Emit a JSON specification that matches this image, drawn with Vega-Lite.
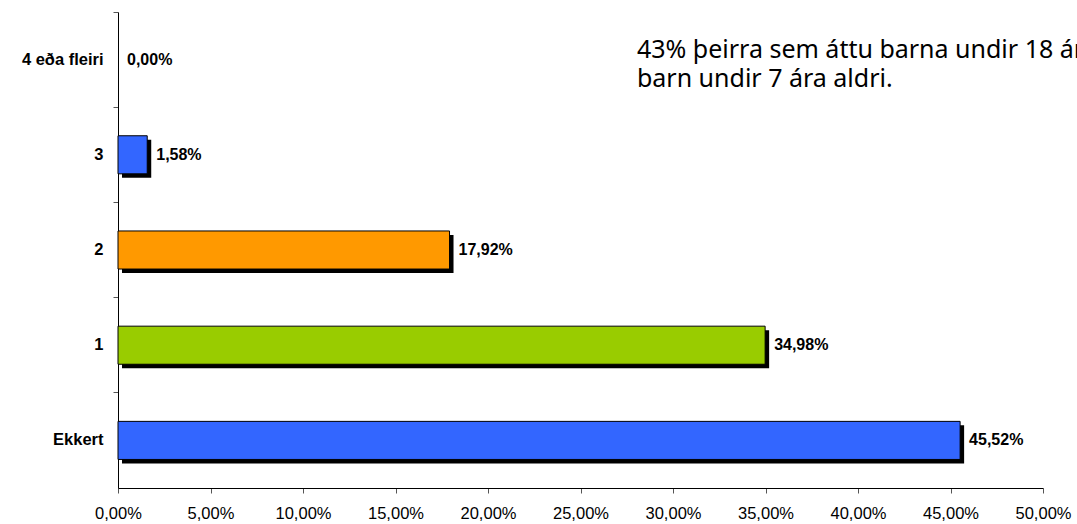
{
  "$schema": "https://vega.github.io/schema/vega-lite/v6.json",
  "width": 925,
  "height": 476,
  "autosize": {"type": "none"},
  "padding": {"left": 118, "top": 12, "right": 34, "bottom": 36},
  "background": "white",
  "config": {
    "view": {"stroke": null},
    "locale": {"number": {"decimal": ",", "thousands": ".", "grouping": [3], "currency": ["", " kr."]}},
    "font": "Liberation Sans"
  },
  "data": {
    "values": [
      {"flokkur": "4 eða fleiri", "hlutfall": 0.0},
      {"flokkur": "3", "hlutfall": 0.0158},
      {"flokkur": "2", "hlutfall": 0.1792},
      {"flokkur": "1", "hlutfall": 0.3498},
      {"flokkur": "Ekkert", "hlutfall": 0.4552}
    ]
  },
  "encoding": {
    "y": {
      "field": "flokkur",
      "type": "nominal",
      "sort": ["4 eða fleiri", "3", "2", "1", "Ekkert"],
      "scale": {"padding": 0},
      "axis": {
        "title": null,
        "bandPosition": 0,
        "domainColor": "#000000",
        "tickColor": "#555555",
        "tickSize": 5,
        "labelFont": "Liberation Sans",
        "labelFontWeight": "bold",
        "labelFontSize": 16.5,
        "labelColor": "#000000",
        "labelPadding": 10
      }
    }
  },
  "layer": [
    {
      "transform": [{"filter": "datum.hlutfall > 0"}],
      "mark": {"type": "bar", "height": {"band": 0.4}, "xOffset": 4, "yOffset": 4, "fill": "#000000"},
      "encoding": {
        "x": {"field": "hlutfall", "type": "quantitative"}
      }
    },
    {
      "transform": [{"filter": "datum.hlutfall > 0"}],
      "mark": {"type": "bar", "height": {"band": 0.4}, "stroke": "#000000", "strokeWidth": 1},
      "encoding": {
        "x": {
          "field": "hlutfall",
          "type": "quantitative",
          "scale": {"domain": [0, 0.5], "nice": false},
          "axis": {
            "title": null,
            "format": ".2%",
            "values": [0, 0.05, 0.1, 0.15, 0.2, 0.25, 0.3, 0.35, 0.4, 0.45, 0.5],
            "grid": false,
            "labelFlush": false,
            "domainColor": "#000000",
            "tickColor": "#555555",
            "tickSize": 5,
            "labelFont": "Liberation Sans",
            "labelFontSize": 16.5,
            "labelColor": "#000000",
            "labelPadding": 12
          }
        },
        "color": {
          "field": "flokkur",
          "type": "nominal",
          "scale": {
            "domain": ["4 eða fleiri", "3", "2", "1", "Ekkert"],
            "range": ["#3366FF", "#3366FF", "#FF9900", "#99CC00", "#3366FF"]
          },
          "legend": null
        }
      }
    },
    {
      "mark": {"type": "text", "align": "left", "baseline": "middle", "dx": 9, "fontWeight": "bold", "fontSize": 16, "font": "Liberation Sans", "color": "#000000"},
      "encoding": {
        "x": {"field": "hlutfall", "type": "quantitative"},
        "text": {"field": "hlutfall", "type": "quantitative", "format": ".2%"}
      }
    },
    {
      "data": {"values": [{"stadsetning": 0.2805, "flokkur": "4 eða fleiri"}]},
      "mark": {
        "type": "text",
        "align": "left",
        "baseline": "alphabetic",
        "dy": -2,
        "lineHeight": 29,
        "font": "Noto Sans",
        "fontSize": 25,
        "fontWeight": "normal",
        "color": "#000000",
        "text": ["43% þeirra sem áttu barna undir 18 ára", "barn undir 7 ára aldri."]
      },
      "encoding": {
        "x": {"field": "stadsetning", "type": "quantitative"}
      }
    }
  ]
}
